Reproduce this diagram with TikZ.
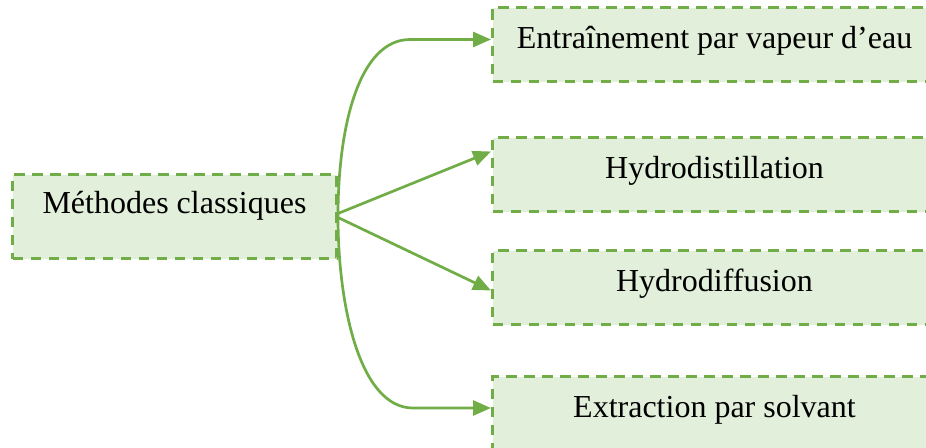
\documentclass[tikz,border=0pt]{standalone}
\usepackage{fontspec}
\setmainfont{Liberation Serif}
\usetikzlibrary{arrows.meta}
\definecolor{leaf}{HTML}{70AD47}
\definecolor{leaffill}{HTML}{E2EFDA}
\begin{document}
\begin{tikzpicture}[x=1pt,y=-1pt,
  box/.style={rectangle, draw=leaf, fill=leaffill, line width=3pt,
    dash pattern=on 10.5pt off 7.5pt, anchor=north west, inner sep=0pt,
    font=\fontsize{32}{38}\selectfont, text height=20pt, text depth=12pt},
  method/.style={box, minimum width=520pt, minimum height=74pt,
    execute at end node={\hspace*{76pt}}},
  link/.style={draw=leaf, line width=2.7pt, -{Triangle[length=18pt,width=15pt]}}]
\useasboundingbox (0,0) rectangle (926,447);
\clip (0,0) rectangle (926,447);

% source box
\node[box, minimum width=324pt, minimum height=84pt,
      text height=16pt, text depth=22pt] (m) at (11,173) {Méthodes classiques};

% target boxes, running past the right edge of the page
\node[method] (b1) at (491,6)   {Entraînement par vapeur d’eau};
\node[method] (b2) at (491,136) {Hydrodistillation};
\node[method] (b3) at (491,249) {Hydrodiffusion};
\node[method, minimum height=100pt, text height=20pt, text depth=38pt] (b4) at (491,375) {Extraction par solvant};

% connectors
\draw[link] (m.east) .. controls +(0,-93) and +(-50,0) ..
  ([xshift=-81pt,yshift=5pt]b1.west) -- ([yshift=5pt]b1.west);
\draw[link] ([yshift=3pt]m.east) -- ([yshift=23pt]b2.west);
\draw[link] ([yshift=-1pt]m.east) -- ([yshift=-3pt]b3.west);
\draw[link] (m.east) .. controls +(0,90) and +(-53,0) ..
  ([xshift=-78pt,yshift=-33pt]b4.north west) -- ([yshift=-33pt]b4.north west);
\end{tikzpicture}
\end{document}
